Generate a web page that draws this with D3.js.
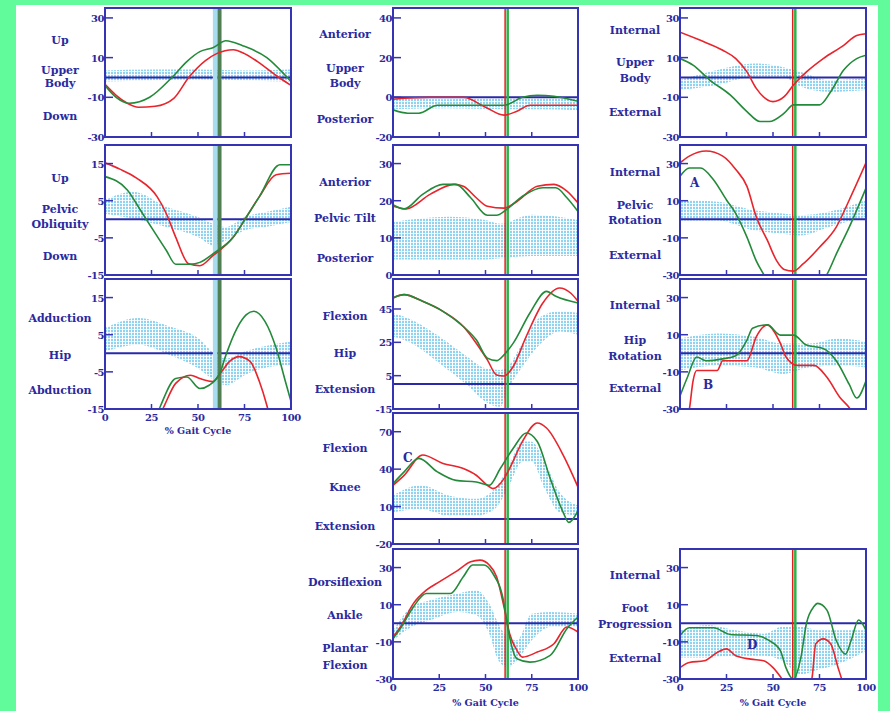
<!DOCTYPE html>
<html>
<head>
<meta charset="utf-8">
<script src="https://cdn.jsdelivr.net/npm/d3@7/dist/d3.min.js"></script>
<style>
  html, body { margin: 0; padding: 0; background: #62fb9c; }
  svg { display: block; }
  text { font-family: "DejaVu Serif", "Liberation Serif", serif; font-weight: bold; fill: #2a2aa0; }
</style>
</head>
<body>
<svg id="chart" width="890" height="711"></svg>
<script>
// ---- data: [% gait cycle, degrees]; bands: [% gait cycle, low, high] ----
const pctTicks = [0, 25, 50, 75, 100];

const ubObliqRed = [[0,-3.5],[6,-9],[12,-13],[18,-15],[27,-14.5],[37,-10.5],[45,0],[54,8.5],[60,12],[69,14],[75,12],[82,8],[92,1],[100,-4]];
const ubObliqGreen = [[0,-4],[6,-10],[13,-13],[24,-10],[36,0],[44,8],[51,13],[58,15],[65,18.5],[74,16],[87,10],[97,1],[100,-2]];
const ubObliqBand = [[0,-2,3.5],[25,-1.5,4],[50,-1,4],[75,-1.5,3.5],[100,-2,4]];
const ubObliqTicks = [30, 10, -10, -30];

const pelObliqRed = [[0,15.2],[8,13.5],[17,11.1],[28,6.1],[33,1.5],[38,-4.8],[45,-12],[51,-12.5],[58,-9.8],[69,-4.8],[76,0.6],[83,6.1],[92,12],[100,12.4]];
const pelObliqGreen = [[0,11.5],[12,7.9],[19,2.5],[26,-3],[33,-8.4],[38,-12.1],[46,-12.1],[51,-11.6],[58,-9.3],[69,-4.8],[76,0.6],[83,6.1],[94,14.7],[100,14.7]];
const pelObliqBand = [[0,1.5,5.2],[15,0.2,7.4],[33,-2.1,3.4],[50,-4.8,0.6],[58,-7,-1.2],[65,-5.7,-2.1],[75,-3,0.6],[87,-2,2],[100,-0.7,3.4]];
const pelObliqTicks = [15, 5, -5, -15];

const hipAbdRed = [[25,-22],[32,-14],[38,-8.1],[46,-5.9],[51,-6.8],[58,-7.6],[62,-5.4],[67,-2.2],[72,-0.9],[78,-2.2],[83,-7.6],[87,-14],[90,-20]];
const hipAbdGreen = [[24,-22],[30,-14],[38,-6.8],[44,-6.4],[51,-9.5],[56,-8.6],[62,-5],[65,-0.5],[71,6.8],[76,10.4],[80,11.3],[86,8.6],[92,1.4],[97,-7.6],[100,-13]];
const hipAbdBand = [[0,0.5,6.8],[18,2.3,9.5],[35,-0.5,7.2],[50,-4,4.1],[60,-7.6,-0.5],[65,-8.6,-1.4],[75,-5.9,0.5],[85,-4,1.8],[100,-3.1,3.2]];
const hipAbdTicks = [15, 5, -5, -15];

const ubTiltRed = [[0,-1],[20,0],[38,0],[50,-5],[60,-9],[67,-7],[74,-4],[100,-4]];
const ubTiltGreen = [[0,-6.3],[8,-8],[14,-8],[24,-4],[45,-4],[60,-4],[70,0],[78,1],[87,0.5],[100,-2]];
const ubTiltBand = [[0,-6,-0.5],[30,-5.5,-1],[60,-6,-0.5],[80,-6,-0.5],[100,-6.5,-0.5]];
const ubTiltTicks = [40, 20, 0, -20];

const pelTiltRed = [[0,18.5],[7,17.8],[20,21.7],[33,24.4],[38,23.9],[45,20.8],[51,18.5],[60,18],[67,19.8],[78,23.9],[87,24.4],[94,22.6],[100,19.4]];
const pelTiltGreen = [[0,18.9],[6,17.8],[16,21.7],[27,24.4],[34,24.4],[42,20.8],[51,16.1],[56,16.1],[61,17.5],[70,21.2],[81,23.5],[88,23.5],[94,20.8],[100,17.1]];
const pelTiltBand = [[0,4.2,14.3],[30,4.2,15.7],[50,4.2,14.8],[58,4.5,13.8],[75,5.1,16.2],[100,5.1,14.8]];
const pelTiltTicks = [30, 20, 10, 0];

const hipFlexRed = [[0,51.6],[6,53.6],[16,49.6],[27,43.6],[38,34.5],[45,24.5],[51,14.5],[56,5.4],[60,4.8],[65,10.5],[72,28.5],[81,48.6],[90,57.6],[96,54.6],[100,49.6]];
const hipFlexGreen = [[0,51.6],[6,53.6],[16,49.6],[27,43.6],[38,34.5],[45,26.5],[51,15.5],[56,14],[60,17.5],[65,24.5],[74,42.6],[83,55.6],[88,52.6],[100,48.6]];
const hipFlexBand = [[0,28.5,42.6],[10,24.5,38.5],[25,12.5,28.5],[40,-0.6,16.5],[50,-10.6,9.4],[58,-13.7,8.4],[62,-3.6,10.5],[70,10.5,24.5],[80,24.5,40.5],[90,31.5,43.6],[100,29.5,42.6]];
const hipFlexTicks = [45, 25, 5, -15];

const kneeFlexRed = [[0,27],[6,35],[16,51.3],[27,44.6],[38,40.5],[45,35.1],[51,27],[54,24.4],[60,32.4],[63,40.5],[70,62.2],[78,77],[83,73],[92,51.3],[100,25.6]];
const kneeFlexGreen = [[0,28.4],[6,37.8],[14,48.6],[24,37.8],[34,31],[45,29.7],[52,27],[58,40.5],[65,56.7],[72,69],[78,62.2],[85,32.4],[92,5.4],[95,-2.7],[100,6.7]];
const kneeFlexBand = [[0,5.4,18.9],[15,8.1,27],[30,2.7,18.9],[45,2.7,16.2],[55,8.1,24.3],[62,24.3,40.5],[70,46,62.2],[75,46,62],[82,24.3,46],[90,5.4,21.6],[100,2.7,10.8]];
const kneeFlexTicks = [70, 40, 10, -20];

const ankleRed = [[0,-7.4],[4,-2],[11,10.6],[18,17.8],[25,22.3],[34,27.8],[42,33.1],[47,34],[52,31.4],[56,25],[60,8.8],[63,-5.5],[67,-14.6],[70,-18.2],[78,-15.5],[87,-11],[94,-2],[100,-4.7]];
const ankleGreen = [[0,-8.3],[4,-2.9],[11,8.8],[18,16],[31,16],[38,25],[43,31.4],[49,31.4],[54,26.8],[60,10.6],[62,-2],[67,-19.1],[74,-20.9],[85,-17.3],[94,-2.9],[100,3.4]];
const ankleBand = [[0,-9.2,-4],[10,-2,8.8],[20,1.6,12.4],[35,6.1,16],[45,4.3,17.8],[52,-5.5,10.6],[57,-20,-0.2],[62,-23.6,-7.4],[67,-20,-9.2],[75,-9.2,5.2],[85,-2,6.1],[100,-2,5.2]];
const ankleTicks = [30, 10, -10, -30];

const ubRotRed = [[0,22.8],[11,18.7],[23,13.7],[30,9.5],[36,2.8],[41,-5.5],[50,-12.2],[56,-9.7],[61,-3.8],[68,2.8],[77,9.5],[88,16.2],[95,21.2],[100,22]];
const ubRotGreen = [[0,9.5],[7,6.2],[16,-1.3],[27,-8.8],[36,-17.2],[43,-22.2],[48,-22.2],[56,-18],[61,-13.8],[66,-13.8],[75,-13.8],[81,-7.2],[88,3.7],[95,9.5],[100,11.2]];
const ubRotBand = [[0,-6.3,-1.3],[20,-3.8,3.7],[40,0.3,7],[55,0.3,5.3],[65,-4.7,2.8],[80,-7.2,-1.3],[100,-6.3,-0.5]];
const ubRotTicks = [30, 10, -10, -30];

const pelRotRed = [[0,30.4],[5,34],[14,36.8],[23,34],[30,26.8],[36,17.7],[41,1.3],[47,-11.4],[52,-22.4],[56,-27],[61,-27.9],[66,-24.2],[75,-15.1],[84,-4.2],[91,10.4],[100,30.4]];
const pelRotGreen = [[0,23.1],[5,27.6],[11,27.6],[18,21.3],[25,10.4],[30,3.1],[36,-9.6],[41,-22.4],[45,-29.7],[50,-38],[70,-38],[76,-34],[79,-29.7],[84,-18.8],[91,-4.2],[100,16.8]];
const pelRotBand = [[0,-0.6,10.4],[20,-0.6,9.5],[40,-6,4.9],[55,-7.8,3.1],[65,-8.7,2.2],[80,-4.2,4],[100,1.3,10.4]];
const pelRotTicks = [30, 10, -10, -30];

const hipRotRed = [[0,-40],[4,-34],[5,-30.2],[7,-15],[9,-9.3],[20,-9.3],[23,-4],[36,-4],[41,8.9],[47,15.3],[50,12.6],[54,5.3],[57,-2],[63,-6.5],[72,-6.5],[79,-12.9],[86,-23.8],[91,-29.3],[95,-36]];
const hipRotGreen = [[0,-23],[4,-12.9],[9,-2],[14,-4],[23,-3],[30,-1.3],[36,7.1],[39,13.5],[47,15.3],[54,9.8],[61,9.8],[68,4.4],[77,2.6],[84,-4],[91,-16.8],[95,-24.1],[100,-14.8]];
const hipRotBand = [[0,-9.3,8],[20,-6.6,10.7],[40,-7.5,8.9],[55,-11.1,5.3],[70,-7.5,5.3],[85,-6.6,8],[100,-7.5,6.2]];
const hipRotTicks = [30, 10, -10, -30];

const footProgRed = [[0,-23.9],[5,-21.1],[13,-20.2],[20,-15.7],[25,-13.8],[30,-17.5],[38,-19.3],[45,-20.2],[50,-23.9],[55,-30.2],[60,-38],[68,-38],[71,-29.3],[73,-11],[77,-8.4],[81,-11],[85,-23.9],[87,-30.2],[90,-38]];
const footProgGreen = [[0,-6.6],[5,-2.4],[18,-2.4],[27,-6],[41,-6.6],[48,-9.3],[54,-14.8],[57,-24],[61,-30.2],[65,-18.4],[68,0],[72,9],[74,10.7],[79,7.1],[84,-9.3],[89,-16.6],[92,-9.3],[96,1.8],[100,-3.8]];
const footProgBand = [[0,-18.4,-3.8],[15,-18.4,-0.9],[30,-17.5,-3.8],[45,-17.5,-5.6],[55,-20.2,-1.8],[65,-27.5,-1.8],[75,-24.8,-3.8],[85,-22,-3.8],[100,-14.8,-3.8]];
const footProgTicks = [30, 10, -10, -30];

// toe-off markers (% gait cycle)
const toeOffNormal = [58, 60.5];
const toeOffRed = 60.6;
const toeOffGreen = 62;

// ---- layout ----
const cols = [[105, 291, 60], [393, 578, 345], [680, 866, 635]];
const rows = [[8, 137], [145, 275], [279, 409], [413, 544], [549, 679]];

const panels = [
  {c: 0, r: 0, domain: [-30, 35], ticks: ubObliqTicks, red: ubObliqRed, green: ubObliqGreen, band: ubObliqBand,
   labels: [["Up", 36], ["Upper", 66], ["Body", 79], ["Down", 112]], marker: "c1"},
  {c: 0, r: 1, domain: [-15, 20], ticks: pelObliqTicks, red: pelObliqRed, green: pelObliqGreen, band: pelObliqBand,
   labels: [["Up", 37], ["Pelvic", 68], ["Obliquity", 83], ["Down", 115]], marker: "c1"},
  {c: 0, r: 2, domain: [-15, 20], ticks: hipAbdTicks, red: hipAbdRed, green: hipAbdGreen, band: hipAbdBand,
   labels: [["Adduction", 43], ["Hip", 80], ["Abduction", 115]], marker: "c1", xaxis: true},
  {c: 1, r: 0, domain: [-20, 45], ticks: ubTiltTicks, red: ubTiltRed, green: ubTiltGreen, band: ubTiltBand,
   labels: [["Anterior", 30], ["Upper", 64], ["Body", 79], ["Posterior", 115]]},
  {c: 1, r: 1, domain: [0, 35], ticks: pelTiltTicks, red: pelTiltRed, green: pelTiltGreen, band: pelTiltBand,
   labels: [["Anterior", 41], ["Pelvic Tilt", 77], ["Posterior", 117]]},
  {c: 1, r: 2, domain: [-15, 63], ticks: hipFlexTicks, red: hipFlexRed, green: hipFlexGreen, band: hipFlexBand,
   labels: [["Flexion", 41], ["Hip", 78], ["Extension", 114]]},
  {c: 1, r: 3, domain: [-20, 85], ticks: kneeFlexTicks, red: kneeFlexRed, green: kneeFlexGreen, band: kneeFlexBand,
   labels: [["Flexion", 39], ["Knee", 78], ["Extension", 117]], letter: ["C", 10, 49]},
  {c: 1, r: 4, domain: [-30, 40], ticks: ankleTicks, red: ankleRed, green: ankleGreen, band: ankleBand,
   labels: [["Dorsiflexion", 37], ["Ankle", 70], ["Plantar", 103], ["Flexion", 120]], xaxis: true},
  {c: 2, r: 0, domain: [-30, 35], ticks: ubRotTicks, red: ubRotRed, green: ubRotGreen, band: ubRotBand,
   labels: [["Internal", 26], ["Upper", 58], ["Body", 74], ["External", 108]]},
  {c: 2, r: 1, domain: [-30, 40], ticks: pelRotTicks, red: pelRotRed, green: pelRotGreen, band: pelRotBand,
   labels: [["Internal", 31], ["Pelvic", 64], ["Rotation", 79], ["External", 114]], letter: ["A", 10, 42]},
  {c: 2, r: 2, domain: [-30, 40], ticks: hipRotTicks, red: hipRotRed, green: hipRotGreen, band: hipRotBand,
   labels: [["Internal", 30], ["Hip", 65], ["Rotation", 81], ["External", 113]], letter: ["B", 23, 110]},
  {c: 2, r: 4, domain: [-30, 40], ticks: footProgTicks, red: footProgRed, green: footProgGreen, band: footProgBand,
   labels: [["Internal", 30], ["Foot", 63], ["Progression", 79], ["External", 113]], letter: ["D", 67, 100], xaxis: true}
];

const blue = "#3434b4";
const svg = d3.select("#chart");

svg.append("rect").attr("x", 16).attr("y", 5).attr("width", 862).attr("height", 706).attr("fill", "#ffffff");

const defs = svg.append("defs");
const pat = defs.append("pattern").attr("id", "dots").attr("patternUnits", "userSpaceOnUse")
  .attr("width", 3).attr("height", 3);
pat.append("rect").attr("x", 0).attr("y", 0).attr("width", 2).attr("height", 2.2).attr("fill", "#8fd3f0");

panels.forEach((p, i) => {
  const [x0, x1, lx] = cols[p.c];
  const [y0, y1] = rows[p.r];
  const x = d3.scaleLinear().domain([0, 100]).range([x0, x1]);
  const y = d3.scaleLinear().domain(p.domain).range([y1, y0]);
  const g = svg.append("g");

  defs.append("clipPath").attr("id", "clip" + i)
    .append("rect").attr("x", x0).attr("y", y0).attr("width", x1 - x0).attr("height", y1 - y0);
  const inner = g.append("g").attr("clip-path", `url(#clip${i})`);

  // normal band
  inner.append("path").datum(p.band)
    .attr("fill", "url(#dots)")
    .attr("d", d3.area().x(d => x(d[0])).y0(d => y(d[1])).y1(d => y(d[2])).curve(d3.curveMonotoneX));

  // zero line
  if (p.domain[0] < 0) {
    inner.append("line").attr("x1", x0).attr("x2", x1).attr("y1", y(0)).attr("y2", y(0))
      .attr("stroke", "#2a2aa8").attr("stroke-width", 2);
  }

  // toe-off markers
  if (p.marker === "c1") {
    inner.append("rect").attr("x", x(toeOffNormal[0])).attr("y", y0)
      .attr("width", x(toeOffNormal[1]) - x(toeOffNormal[0])).attr("height", y1 - y0).attr("fill", "#a8dcef");
    inner.append("rect").attr("x", x(toeOffNormal[1])).attr("y", y0)
      .attr("width", 4).attr("height", y1 - y0).attr("fill", "#4f7f52");
  } else {
    inner.append("line").attr("x1", x(toeOffGreen)).attr("x2", x(toeOffGreen)).attr("y1", y0).attr("y2", y1)
      .attr("stroke", "#2fb24a").attr("stroke-width", 2.5);
    inner.append("line").attr("x1", x(toeOffRed)).attr("x2", x(toeOffRed)).attr("y1", y0).attr("y2", y1)
      .attr("stroke", "#e02020").attr("stroke-width", 1.5);
  }

  const line = d3.line().x(d => x(d[0])).y(d => y(d[1])).curve(d3.curveMonotoneX);
  inner.append("path").datum(p.red).attr("fill", "none").attr("stroke", "#e8242c").attr("stroke-width", 1.6).attr("d", line);
  inner.append("path").datum(p.green).attr("fill", "none").attr("stroke", "#238a3a").attr("stroke-width", 1.6).attr("d", line);

  // frame
  g.append("rect").attr("x", x0).attr("y", y0).attr("width", x1 - x0).attr("height", y1 - y0)
    .attr("fill", "none").attr("stroke", blue).attr("stroke-width", 2);

  // y ticks
  p.ticks.forEach(t => {
    g.append("line").attr("x1", x0).attr("x2", x0 + 8).attr("y1", y(t)).attr("y2", y(t))
      .attr("stroke", blue).attr("stroke-width", 1.5);
    g.append("text").attr("x", x0 - 1).attr("y", y(t) + 4).attr("text-anchor", "end")
      .attr("font-size", 10).attr("letter-spacing", -0.5).text(t);
  });
  // x ticks
  [25, 50, 75].forEach(t => {
    g.append("line").attr("x1", x(t)).attr("x2", x(t)).attr("y1", y1).attr("y2", y1 - 5)
      .attr("stroke", blue).attr("stroke-width", 1.5);
  });

  // row labels
  p.labels.forEach(([txt, dy]) => {
    g.append("text").attr("x", lx).attr("y", y0 + dy).attr("text-anchor", "middle")
      .attr("font-size", 11).text(txt);
  });
  if (p.letter) {
    g.append("text").attr("x", x0 + p.letter[1]).attr("y", y0 + p.letter[2])
      .attr("font-size", 12).attr("fill", "#1e1ea0").text(p.letter[0]);
  }

  if (p.xaxis) {
    pctTicks.forEach(t => {
      g.append("text").attr("x", x(t)).attr("y", y1 + 12).attr("text-anchor", "middle")
        .attr("font-size", 10).attr("letter-spacing", -0.5).text(t);
    });
    g.append("text").attr("x", (x0 + x1) / 2).attr("y", y1 + (p.c === 0 ? 25 : 27)).attr("text-anchor", "middle")
      .attr("font-size", 9.5).text("% Gait Cycle");
  }
});
</script>
</body>
</html>
